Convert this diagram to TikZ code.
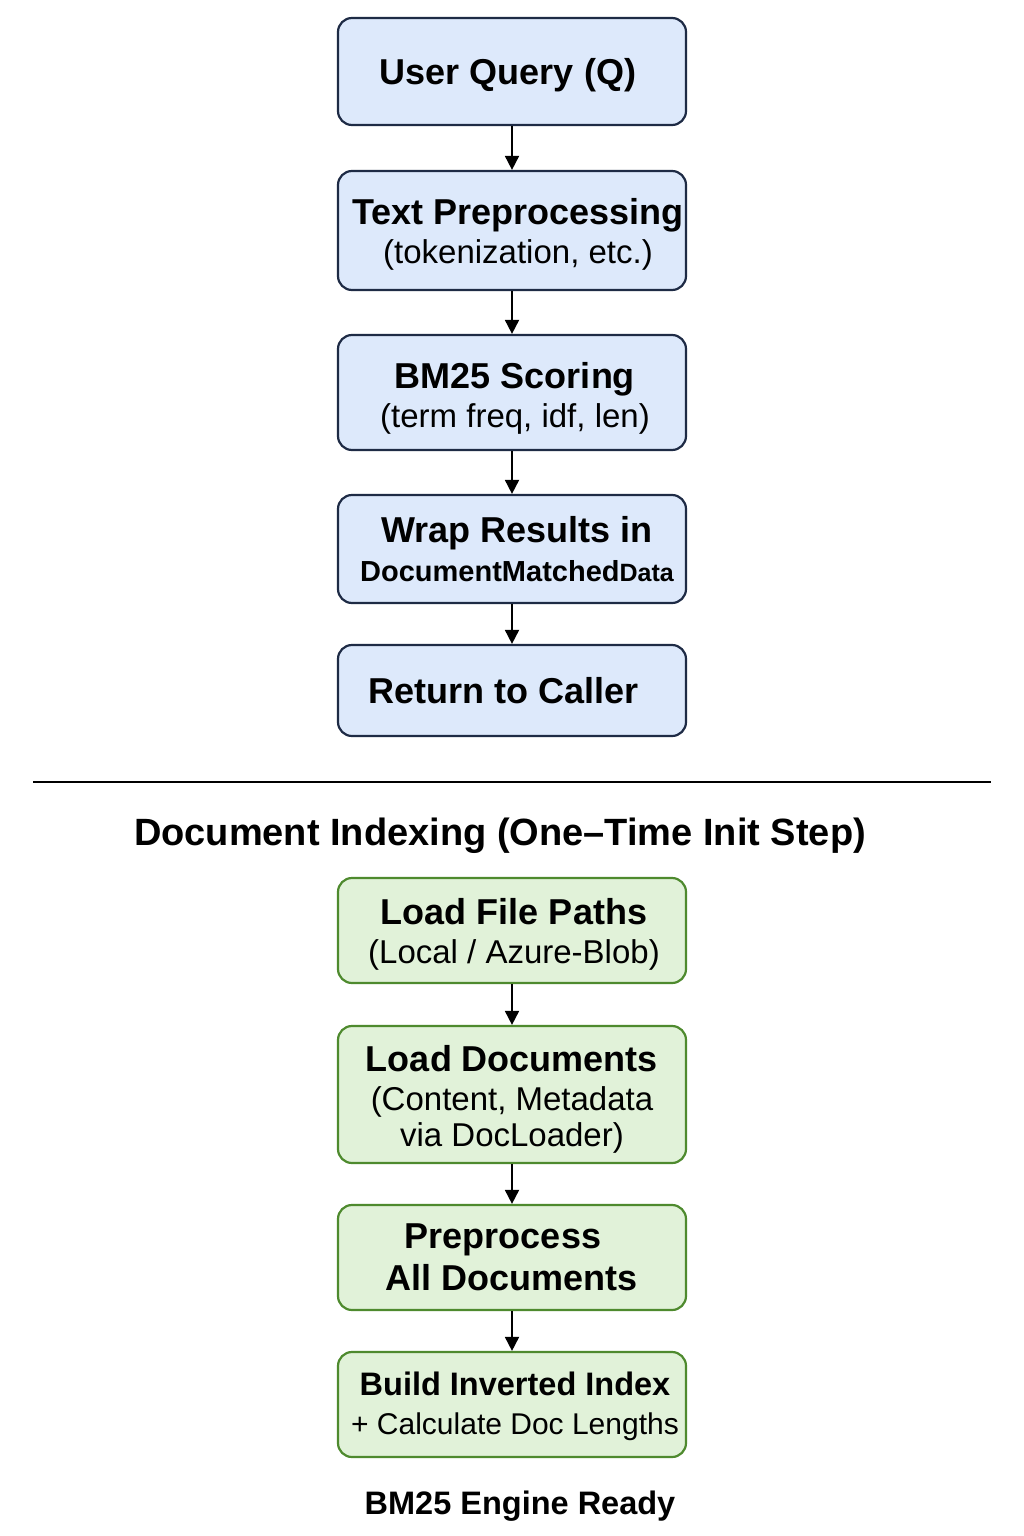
\documentclass[tikz,border=0pt]{standalone}
\usepackage{fontspec}
\setmainfont{Liberation Sans}
\usetikzlibrary{arrows.meta}
\definecolor{bfill}{HTML}{DDE9FB}
\definecolor{bdraw}{HTML}{1E2B45}
\definecolor{gfill}{HTML}{E1F2D9}
\definecolor{gdraw}{HTML}{4E8A2E}
\newcommand\hbold{\fontsize{36}{39}\selectfont\bfseries}
\newcommand\hreg{\fontsize{33}{39}\selectfont\mdseries}
\begin{document}
\begin{tikzpicture}[x=1pt,y=-1pt,
  box/.style={draw, rounded corners=14pt, line width=2.2pt, minimum width=348pt,
    inner sep=0pt},
  bluebox/.style={box, fill=bfill, draw=bdraw},
  greenbox/.style={box, fill=gfill, draw=gdraw},
  txt/.style={inner sep=0pt, align=center, text=black, font=\hreg},
  arr/.style={-{Triangle[length=14pt,width=14pt]}, line width=1.8pt, black},
  heading/.style={font=\fontsize{38}{42}\selectfont\bfseries, inner sep=0pt}
]
\useasboundingbox (0,0) rectangle (1024,1536);
\fill[white] (0,0) rectangle (1024,1536);

% query pipeline
\node[bluebox, minimum height=107pt] (b1) at (512,71.5) {};
\node[bluebox, minimum height=119pt] (b2) at (512,230.5) {};
\node[bluebox, minimum height=115pt] (b3) at (512,392.5) {};
\node[bluebox, minimum height=108pt] (b4) at (512,549) {};
\node[bluebox, minimum height=91pt] (b5) at (512,690.5) {};

\node[txt] (t1) at ([xshift=-4pt,yshift=-4pt]b1.center) {\hbold User Query (Q)};
\node[txt] (t2) at ([xshift=6pt,yshift=-4pt]b2.center) {\hbold Text Preprocessing\\ \hreg (tokenization, etc.)};
\node[txt] (t3) at ([xshift=3pt,yshift=-6pt]b3.center) {\hbold BM25 Scoring\\ \hreg (term freq, idf, len)};
\node[txt] (t4) at ([xshift=5pt,yshift=0pt]b4.center) {\hbold Wrap Results in\\ {\fontsize{29}{39}\selectfont\bfseries DocumentMatched{\fontsize{25}{39}\selectfont Data}}};
\node[txt] (t5) at ([xshift=-8pt,yshift=0pt]b5.center) {\hbold Return to Caller};

\draw[arr] (b1) -- (b2);
\draw[arr] (b2) -- (b3);
\draw[arr] (b3) -- (b4);
\draw[arr] (b4) -- (b5);

% separator
\coordinate (sepL) at (33,782);
\coordinate (sepR) at (991,782);
\draw[line width=2pt, black] (sepL) -- (sepR);

\node[heading] (title) at (500,836) {Document Indexing (One–Time Init Step)};

% indexing pipeline
\node[greenbox, minimum height=105pt] (g1) at (512,930.5) {};
\node[greenbox, minimum height=137pt] (g2) at (512,1094.5) {};
\node[greenbox, minimum height=105pt] (g3) at (512,1257.5) {};
\node[greenbox, minimum height=105pt] (g4) at (512,1404.5) {};

\node[txt] (u1) at ([xshift=2pt,yshift=-4pt]g1.center) {\hbold Load File Paths\\ \hreg (Local / Azure-Blob)};
\node[txt] (u2) at ([xshift=0pt,yshift=-5pt]g2.center) {\hbold Load Documents\\ \hreg (Content, Metadata\\[-3pt] \hreg via DocLoader)};
\node[txt] (u3) at ([xshift=0pt,yshift=0pt]g3.center) {\hbold Preprocess\hspace*{18pt}\\[3pt] \hbold All Documents};
\node[txt] (u4) at ([xshift=3pt,yshift=-2pt]g4.center) {{\fontsize{32.5}{39}\selectfont\bfseries Build Inverted Index}\\ {\fontsize{30}{39}\selectfont + Calculate Doc Lengths}};

\draw[arr] (g1) -- (g2);
\draw[arr] (g2) -- (g3);
\draw[arr] (g3) -- (g4);

\node[heading, font=\fontsize{32.5}{38}\selectfont\bfseries] (ready) at (520,1506) {BM25 Engine Ready};
\end{tikzpicture}
\end{document}
